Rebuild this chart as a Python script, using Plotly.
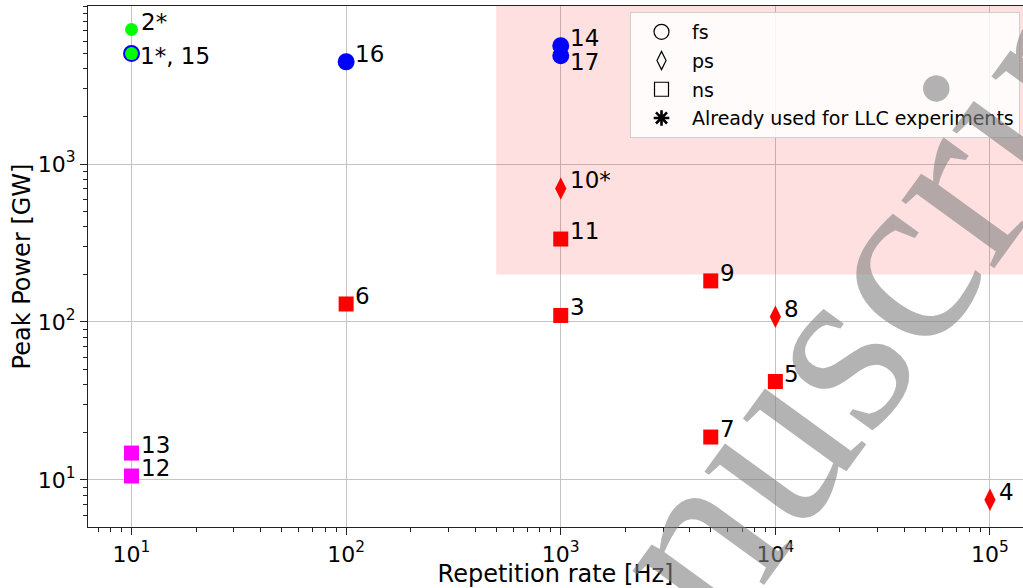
import numpy as np
import plotly.graph_objects as go

# ---------------- data ----------------
point_ids   = ['1*', '2*', '3', '4', '5', '6', '7', '8', '9', '10*', '11', '12', '13', '14', '15', '16', '17']
rep_rate_hz = [10, 10, 1000, 1e5, 1e4, 100, 5000, 1e4, 5000, 1000, 1000, 10, 10, 1000, 10, 100, 1000]
peak_gw     = [5000, 7100, 110, 7.5, 42, 130, 18.7, 108, 182, 700, 335, 10.6, 14.8, 5600, 5000, 4430, 4850]
pulse_type  = ['fs', 'fs', 'ns', 'ps', 'ns', 'ns', 'ns', 'ps', 'ns', 'ps', 'ns', 'ns', 'ns', 'fs', 'fs', 'fs', 'fs']
group       = ['green', 'green', 'red', 'red', 'red', 'red', 'red', 'red', 'red', 'red', 'red',
               'magenta', 'magenta', 'blue', 'blue', 'blue', 'blue']
point_label = ['1*, 15', '2*', '3', '4', '5', '6', '7', '8', '9', '10*', '11', '12', '13', '14', '', '16', '17']

highlight_x = [500, 1e7]     # shaded region (Hz)
highlight_y = [200, 1e6]     # shaded region (GW)

x_tickvals = [10, 100, 1000, 1e4, 1e5]
x_ticktext = ['10<sup>1</sup>', '10<sup>2</sup>', '10<sup>3</sup>', '10<sup>4</sup>', '10<sup>5</sup>']
y_tickvals = [10, 100, 1000]
y_ticktext = ['10<sup>1</sup>', '10<sup>2</sup>', '10<sup>3</sup>']

legend_names = ['fs', 'ps', 'ns', 'Already used for LLC experiments']

# ---------------- styles ----------------
FONT = 'DejaVu Sans'
color_map = {'green': '#00ff00', 'blue': '#0000ff', 'red': '#ff0000', 'magenta': '#ff00ff'}
symbol_map = {'fs': 'circle', 'ps': 'diamond-tall', 'ns': 'square'}
size_map = {'fs': 17, 'ps': 16, 'ns': 15}
label_shift = {'1*, 15': (6, -2), '17': (7, -6)}

fig = go.Figure()

# shaded region
fig.add_trace(go.Scatter(
    x=[highlight_x[0], highlight_x[1], highlight_x[1], highlight_x[0], highlight_x[0]],
    y=[highlight_y[0], highlight_y[0], highlight_y[1], highlight_y[1], highlight_y[0]],
    mode='lines', fill='toself', fillcolor='rgba(255,0,0,0.12)', line=dict(width=0),
    hoverinfo='skip', showlegend=False))

# draw order: blue first (so green 1* sits on top of blue 15)
order = ['blue', 'green', 'red', 'magenta']
for g in order:
    for pt in ['fs', 'ps', 'ns']:
        idx = [i for i in range(len(point_ids)) if group[i] == g and pulse_type[i] == pt]
        if not idx:
            continue
        size = size_map[pt]
        if g == 'green':
            size = 13
        fig.add_trace(go.Scatter(
            x=[rep_rate_hz[i] for i in idx], y=[peak_gw[i] for i in idx],
            mode='markers',
            marker=dict(symbol=symbol_map[pt], size=size, color=color_map[g], line=dict(width=0)),
            showlegend=False, hoverinfo='skip'))

# legend entries
legend_symbols = ['circle-open', 'diamond-tall-open', 'square-open', 'asterisk-open']
legend_sizes = [15, 13, 14, 13]
for name, sym, sz in zip(legend_names, legend_symbols, legend_sizes):
    fig.add_trace(go.Scatter(
        x=[None], y=[None], mode='markers', name=name, legendgroup=name,
        marker=dict(symbol=sym, size=sz, color='black',
                    line=dict(width=2.6 if sym == 'asterisk-open' else 1.2, color='black'))))

# point labels
annotations = []
for i, lab in enumerate(point_label):
    if not lab:
        continue
    dx, dy = label_shift.get(lab, (7, 8))
    annotations.append(dict(
        x=np.log10(rep_rate_hz[i]), y=np.log10(peak_gw[i]), xref='x', yref='y',
        text=lab, showarrow=False, xanchor='left', yanchor='middle',
        xshift=dx, yshift=dy, font=dict(family=FONT, size=23, color='black')))

# watermark
annotations.append(dict(
    x=0.754, y=0.240, xref='paper', yref='paper', text='Manuscript', showarrow=False,
    textangle=-54, xanchor='center', yanchor='middle',
    font=dict(family='Liberation Serif', size=250, color='rgba(128,128,128,0.6)')))

axis_common = dict(
    type='log', showline=True, linecolor='#222', linewidth=1.2,
    ticks='outside', ticklen=7, tickwidth=1.2, tickcolor='#222',
    showgrid=True, gridcolor='#c4c4c4', gridwidth=1, zeroline=False,
    tickfont=dict(family=FONT, size=22, color='black'),
    automargin=False,
    minor=dict(ticks='outside', ticklen=4, tickwidth=1, tickcolor='#222', dtick='D1', showgrid=False),
)

fig.update_layout(
    width=1023, height=588,
    margin=dict(l=88, r=0, t=6, b=61, pad=0, autoexpand=False),
    paper_bgcolor='white', plot_bgcolor='white',
    font=dict(family=FONT, color='black'),
    xaxis=dict(axis_common, range=[np.log10(6.27), np.log10(1.425e5)],
               tickmode='array', tickvals=x_tickvals, ticktext=x_ticktext, mirror=True,
               title=dict(text='Repetition rate [Hz]', font=dict(family=FONT, size=24), standoff=3)),
    yaxis=dict(axis_common, range=[np.log10(5.04), 4.0],
               tickmode='array', tickvals=y_tickvals, ticktext=y_ticktext,
               title=dict(text='Peak Power [GW]', font=dict(family=FONT, size=24), standoff=0)),
    legend=dict(x=0.9968, y=0.9885, xanchor='right', yanchor='top',
                bgcolor='rgba(255,255,255,0.85)', bordercolor='#d0d0d0', borderwidth=1,
                font=dict(family=FONT, size=19, color='black'),
                traceorder='grouped', tracegroupgap=1, itemwidth=51),
    annotations=annotations,
    showlegend=True,
)

fig.write_html('out.html', config={'displayModeBar': False},
               post_script="document.body.style.margin='0';document.body.style.overflow='hidden';")
